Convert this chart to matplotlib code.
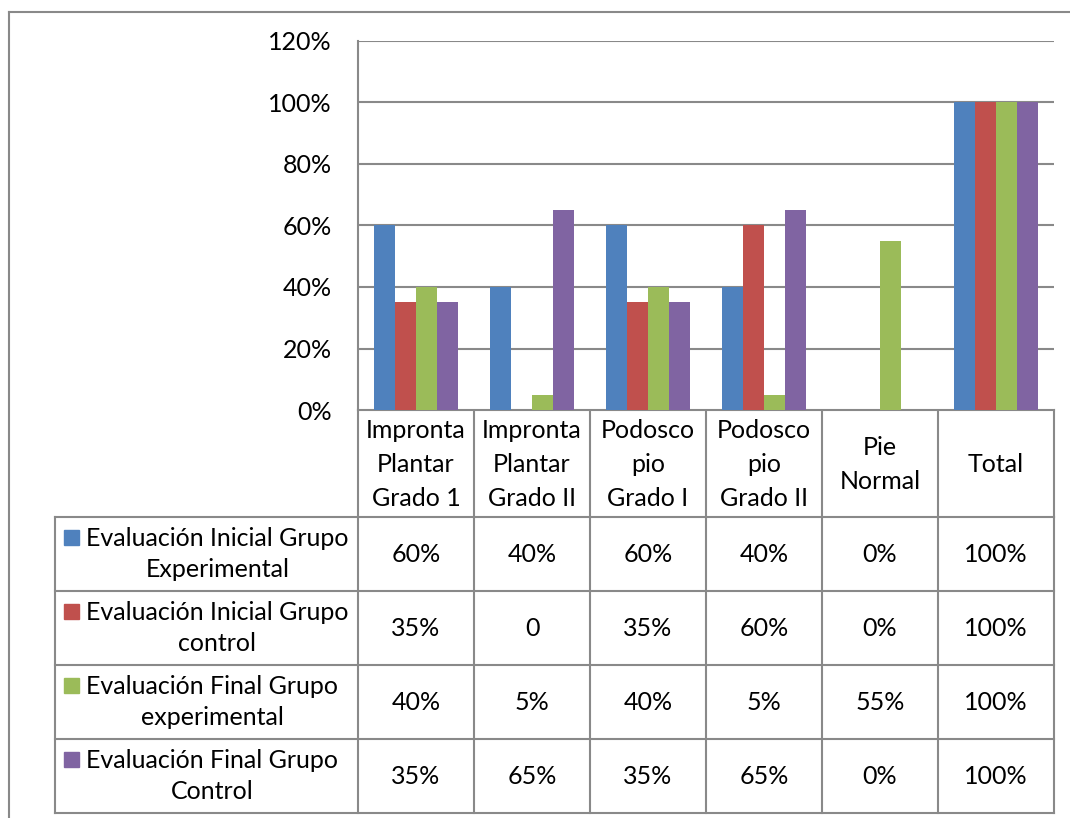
import numpy as np
import matplotlib
matplotlib.use("Agg")
from matplotlib import pyplot as plt
from matplotlib.patches import Rectangle

categorias = ["Impronta\nPlantar\nGrado 1", "Impronta\nPlantar\nGrado II",
              "Podosco\npio\nGrado I", "Podosco\npio\nGrado II",
              "Pie\nNormal", "Total"]
series = ["Evaluación Inicial Grupo\nExperimental",
          "Evaluación Inicial Grupo\ncontrol",
          "Evaluación Final Grupo\nexperimental",
          "Evaluación Final Grupo\nControl"]
ini_exp = [0.60, 0.40, 0.60, 0.40, 0.00, 1.00]
ini_ctl = [0.35, 0.00, 0.35, 0.60, 0.00, 1.00]
fin_exp = [0.40, 0.05, 0.40, 0.05, 0.55, 1.00]
fin_ctl = [0.35, 0.65, 0.35, 0.65, 0.00, 1.00]
etiquetas = [["60%", "40%", "60%", "40%", "0%", "100%"],
             ["35%", "0", "35%", "60%", "0%", "100%"],
             ["40%", "5%", "40%", "5%", "55%", "100%"],
             ["35%", "65%", "35%", "65%", "0%", "100%"]]
yticks = [0, 0.2, 0.4, 0.6, 0.8, 1.0, 1.2]
ytick_labels = ["0%", "20%", "40%", "60%", "80%", "100%", "120%"]

colores = ["#4F81BD", "#C0504D", "#9BBB59", "#8064A2"]
gris = "#898989"

matplotlib.rcParams['font.family'] = ['Lato', 'DejaVu Sans']
fs = 18

W, H = 1070, 818
fig = plt.figure(figsize=(W / 100, H / 100), dpi=100)

# posiciones en pixeles de la zona del grafico
x0, x1 = 358, 1054
ytop, y0 = 41, 410

# fondo / tabla en coordenadas de pixel
bg = fig.add_axes((0, 0, 1, 1))
bg.set_xlim(0, W)
bg.set_ylim(H, 0)
bg.axis('off')

ax = fig.add_axes((x0 / W, (H - y0) / H, (x1 - x0) / W, (y0 - ytop) / H))
n = len(categorias)
datos = [ini_exp, ini_ctl, fin_exp, fin_ctl]
w = 1 / 5.5
xc = np.arange(n) + 0.5
for j, vals in enumerate(datos):
    ax.bar(xc + (j - 1.5) * w, vals, width=w, color=colores[j], zorder=3)

ax.set_xlim(0, n)
ax.set_ylim(0, 1.2)
ax.set_yticks(yticks)
ax.set_yticklabels(ytick_labels, fontsize=fs)
ax.tick_params(axis='y', length=0, pad=19)
ax.set_xticks([])
ax.grid(axis='y', color=gris, linewidth=1.5, zorder=0)
for s in ['top', 'right', 'bottom']:
    ax.spines[s].set_visible(False)
ax.spines['left'].set_color(gris)
ax.spines['left'].set_linewidth(1.5)

# tabla de datos
col_w = (x1 - x0) / n
hdr_bot = 517
row_h = 74
tx0 = 55
lw = 1.5
# encabezado
for i in range(n + 1):
    xx = x0 + i * col_w
    bg.plot([xx, xx], [y0, hdr_bot], color=gris, lw=lw)
bg.plot([x0, x1], [y0, y0], color=gris, lw=lw)
for i, c in enumerate(categorias):
    bg.text(x0 + (i + 0.5) * col_w, (y0 + hdr_bot) / 2 + 1, c, ha='center', va='center',
            fontsize=fs, linespacing=1.58)
# filas
nf = len(series)
yb = hdr_bot + nf * row_h
for r in range(nf + 1):
    yy = hdr_bot + r * row_h
    bg.plot([tx0, x1], [yy, yy], color=gris, lw=lw)
for xx in [tx0] + [x0 + i * col_w for i in range(n + 1)]:
    bg.plot([xx, xx], [hdr_bot, yb], color=gris, lw=lw)
for r in range(nf):
    yc = hdr_bot + (r + 0.5) * row_h
    bg.text(86, yc, series[r], ha='left', va='center', fontsize=fs,
            linespacing=1.46, multialignment='center')
    bg.add_patch(Rectangle((64, yc - 24), 15, 15, color=colores[r]))
    for i in range(n):
        bg.text(x0 + (i + 0.5) * col_w, yc, etiquetas[r][i], ha='center', va='center',
                fontsize=fs)

# borde exterior
bg.plot([9, W], [12, 12], color=gris, lw=lw)
bg.plot([9, 9], [12, H], color=gris, lw=lw)

fig.savefig("out.png", dpi=100)
